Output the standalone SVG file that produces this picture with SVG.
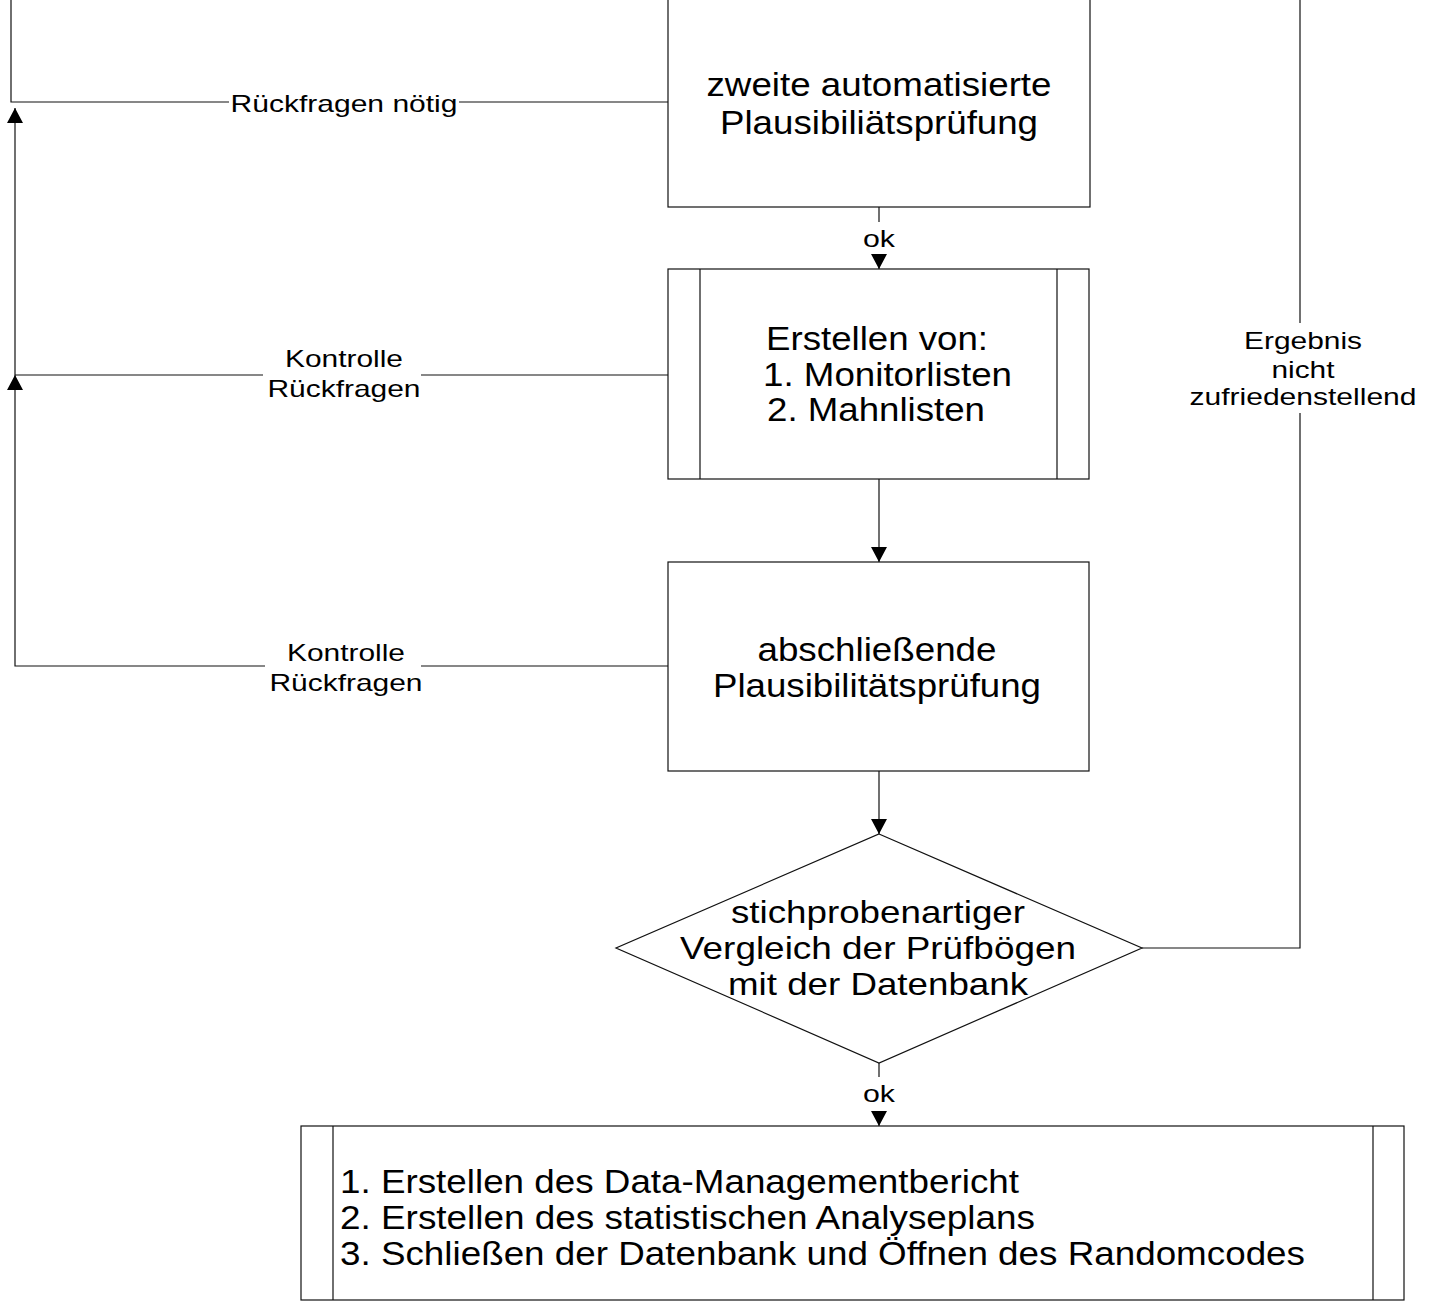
<svg xmlns="http://www.w3.org/2000/svg" width="1429" height="1310" viewBox="0 0 1429 1310">
<style>
.box{fill:#fff;stroke:#111;stroke-width:1.2}
.ln{fill:none;stroke:#111;stroke-width:1.2}
.big{font-family:"Liberation Sans",Arial,sans-serif;font-size:34px;fill:#000}
.dia{font-size:32px}
.lbl{font-family:"Liberation Sans",Arial,sans-serif;font-size:24px;fill:#000}
.mid{text-anchor:middle}
</style>
<defs>
<marker id="ah" viewBox="0 0 15 16" refX="15" refY="8" markerWidth="15" markerHeight="16" markerUnits="userSpaceOnUse" orient="auto">
<path d="M0,0 L15,8 L0,16 z" fill="#000"/>
</marker>
</defs>
<rect width="1429" height="1310" fill="#fff"/>
<g id="connectors">
<path class="ln" d="M668,102 H459"/>
<path class="ln" d="M229,102 H11 V-5"/>
<path class="ln" d="M668,375 H421"/>
<path class="ln" d="M263,375 H15"/>
<path class="ln" d="M668,666 H421"/>
<path class="ln" d="M265,666 H15 V375" marker-end="url(#ah)"/>
<path class="ln" d="M15,375 V108" marker-end="url(#ah)"/>
<path class="ln" d="M879,207 V222"/>
<path class="ln" d="M879,254 V269" marker-end="url(#ah)"/>
<path class="ln" d="M879,479 V562" marker-end="url(#ah)"/>
<path class="ln" d="M879,771 V834" marker-end="url(#ah)"/>
<path class="ln" d="M879,1063 V1077"/>
<path class="ln" d="M879,1111 V1126" marker-end="url(#ah)"/>
<path class="ln" d="M1142,948 H1300 V413"/>
<path class="ln" d="M1300,323 V-5"/>
<text class="lbl mid" x="344" y="112" textLength="227" lengthAdjust="spacingAndGlyphs">Rückfragen nötig</text>
<text class="lbl mid" x="344" y="367" textLength="118" lengthAdjust="spacingAndGlyphs">Kontrolle</text>
<text class="lbl mid" x="344" y="397" textLength="153" lengthAdjust="spacingAndGlyphs">Rückfragen</text>
<text class="lbl mid" x="346" y="661" textLength="118" lengthAdjust="spacingAndGlyphs">Kontrolle</text>
<text class="lbl mid" x="346" y="691" textLength="153" lengthAdjust="spacingAndGlyphs">Rückfragen</text>
<text class="lbl mid" x="879" y="247" textLength="32" lengthAdjust="spacingAndGlyphs">ok</text>
<text class="lbl mid" x="879" y="1102" textLength="32" lengthAdjust="spacingAndGlyphs">ok</text>
<text class="lbl mid" x="1303" y="349" textLength="118" lengthAdjust="spacingAndGlyphs">Ergebnis</text>
<text class="lbl mid" x="1303" y="378" textLength="63" lengthAdjust="spacingAndGlyphs">nicht</text>
<text class="lbl mid" x="1303" y="405" textLength="227" lengthAdjust="spacingAndGlyphs">zufriedenstellend</text>
</g>
<g id="n1">
<rect class="box" x="668" y="-5" width="422" height="212"/>
<text class="big mid" x="879" y="96" textLength="345" lengthAdjust="spacingAndGlyphs">zweite automatisierte</text>
<text class="big mid" x="879" y="134" textLength="318" lengthAdjust="spacingAndGlyphs">Plausibiliätsprüfung</text>
</g>
<g id="n2">
<rect class="box" x="668" y="269" width="421" height="210"/>
<path class="ln" d="M700,269 V479 M1057,269 V479"/>
<text class="big" x="766" y="350" textLength="222" lengthAdjust="spacingAndGlyphs">Erstellen von:</text>
<text class="big" x="763" y="386" textLength="249" lengthAdjust="spacingAndGlyphs">1. Monitorlisten</text>
<text class="big" x="767" y="421" textLength="218" lengthAdjust="spacingAndGlyphs">2. Mahnlisten</text>
</g>
<g id="n3">
<rect class="box" x="668" y="562" width="421" height="209"/>
<text class="big mid" x="877" y="661" textLength="239" lengthAdjust="spacingAndGlyphs">abschließende</text>
<text class="big mid" x="877" y="697" textLength="328" lengthAdjust="spacingAndGlyphs">Plausibilitätsprüfung</text>
</g>
<g id="n4">
<polygon class="box" points="879,834 1142,948 879,1063 616,948"/>
<text class="big dia mid" x="878" y="923" textLength="294" lengthAdjust="spacingAndGlyphs">stichprobenartiger</text>
<text class="big dia mid" x="878" y="959" textLength="396" lengthAdjust="spacingAndGlyphs">Vergleich der Prüfbögen</text>
<text class="big dia mid" x="878" y="995" textLength="300" lengthAdjust="spacingAndGlyphs">mit der Datenbank</text>
</g>
<g id="n5">
<rect class="box" x="301" y="1126" width="1103" height="174"/>
<path class="ln" d="M333,1126 V1300 M1373,1126 V1300"/>
<text class="big" x="340" y="1193" textLength="679" lengthAdjust="spacingAndGlyphs">1. Erstellen des Data-Managementbericht</text>
<text class="big" x="340" y="1229" textLength="695" lengthAdjust="spacingAndGlyphs">2. Erstellen des statistischen Analyseplans</text>
<text class="big" x="340" y="1265" textLength="965" lengthAdjust="spacingAndGlyphs">3. Schließen der Datenbank und Öffnen des Randomcodes</text>
</g>
</svg>
